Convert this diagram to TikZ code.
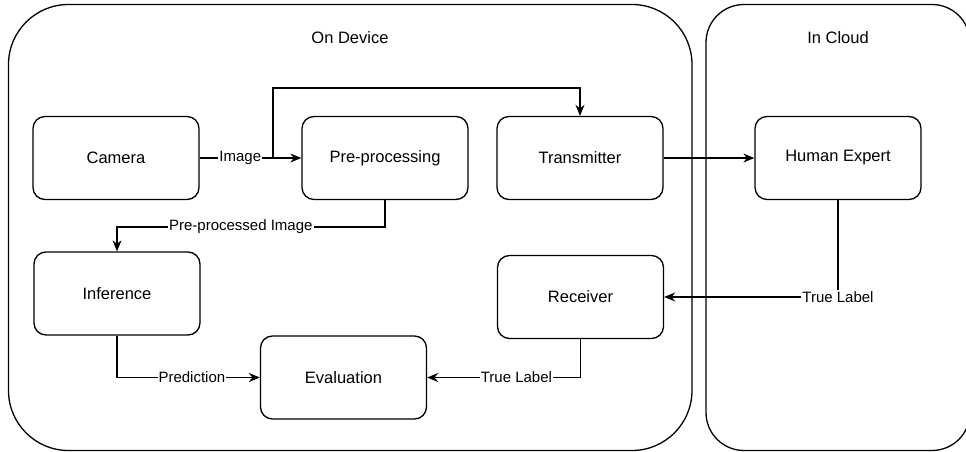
\documentclass[tikz,border=0pt]{standalone}
\usepackage{fontspec}
\setmainfont{Liberation Sans}
\usetikzlibrary{arrows.meta}
\begin{document}
\begin{tikzpicture}[x=1pt,y=-1pt,
  container/.style={draw, line width=1.3pt, inner sep=0pt},
  titletext/.style={font=\fontsize{16.5}{19}\selectfont, inner sep=0pt},
  block/.style={draw, line width=1.3pt, rounded corners=12pt,
    minimum width=166pt, minimum height=83pt, inner sep=0pt,
    font=\fontsize{16.5}{19}\selectfont},
  flow/.style={line width=1.3pt, -{Stealth[length=11pt, width=9pt, inset=3.5pt]}},
  plain/.style={line width=1.3pt},
  lbl/.style={fill=white, inner sep=1pt, font=\fontsize{15}{18}\selectfont}]
\useasboundingbox (0,0) rectangle (966,452);

% containers
\node[container, rounded corners=60pt, minimum width=683.5pt, minimum height=446pt] (dev) at (350.25,227.5) {};
\node[container, rounded corners=38pt, minimum width=264pt, minimum height=446pt] (cloud) at (838,227.5) {};
\node[titletext] (devtitle) at (350,38) {On Device};
\node[titletext] (cloudtitle) at (838,38) {In Cloud};

% processing blocks
\node[block] (cam) at (116,158) {Camera};
\node[block] (pre) at (385,158) {Pre-processing};
\node[block] (tx)  at (580,158) {Transmitter};
\node[block] (he)  at (838,158) {Human Expert};
\node[block] (inf) at (117,293.5) {Inference};
\node[block] (rx)  at (580.5,297) {Receiver};
\node[block] (ev)  at (343.5,377.5) {Evaluation};

% branch points
\coordinate (split) at (273,158);
\coordinate (splittop) at (273,88);
\coordinate (ppturn) at (385,227);

% connectors
\draw[flow] (cam.east) -- node[lbl, pos=0.40] {Image} (pre.west);
\draw[flow] (split) -- (splittop) -| (tx.north);
\draw[flow] (tx.east) -- (he.west);
\draw[flow] (pre.south) -- (ppturn) -| node[lbl, pos=0.269] {Pre-processed Image} (inf.north);
\draw[flow] (inf.south) |- node[lbl, pos=0.762] {Prediction} (ev.west);
\draw[flow] (rx.south) |- node[lbl, pos=0.709] {True Label} (ev.east);
\draw[flow] (he.south) |- node[lbl, pos=0.5] {True Label} (rx.east);
\end{tikzpicture}
\end{document}
